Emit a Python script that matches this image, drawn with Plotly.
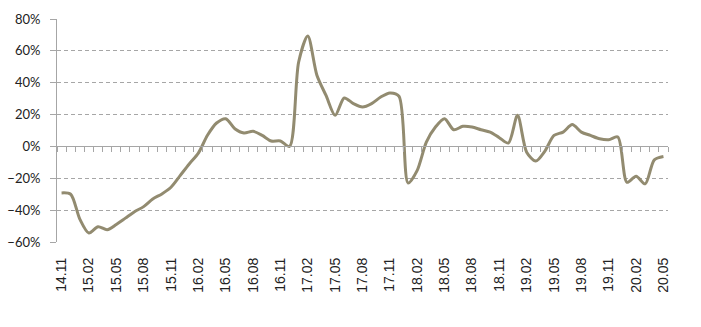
import plotly.graph_objects as go

# Monthly categories from 2014.11 to 2020.05
months = []
y, m = 14, 11
while (y, m) <= (20, 5):
    months.append(f"{y:02d}.{m:02d}")
    m += 1
    if m > 12:
        m = 1
        y += 1

values = [-29.2, -30, -45.6, -54.4, -50.4, -52.3, -49, -45, -41, -37.8,
          -33, -29.8, -25.6, -18.3, -11, -4.2, 7, 14.7, 17.4, 11.1,
          8.4, 9.5, 6.9, 3.4, 3.4, 0, 53, 69.3, 44.7, 32,
          19.5, 30.4, 26.9, 24.8, 26.9, 31, 33.6, 31.5, -23, -15,
          2.7, 12.2, 17.4, 10.5, 12.6, 12.2, 10.5, 9, 5.5, 2.1,
          19.5, -3.6, -9.2, -2.9, 6.9, 9, 13.7, 9, 6.9, 4.8,
          4.2, 5.9, -22.5, -18.7, -23.5, -8.4, -6.3]

tick_labels = ["14.11", "15.02", "15.05", "15.08", "15.11", "16.02", "16.05",
               "16.08", "16.11", "17.02", "17.05", "17.08", "17.11", "18.02",
               "18.05", "18.08", "18.11", "19.02", "19.05", "19.08", "19.11",
               "20.02", "20.05"]

line_color = "#928B70"
grid_color = "#A6A6A6"

fig = go.Figure()
fig.add_trace(go.Scatter(x=months, y=values, mode="lines",
                         line=dict(color=line_color, width=3, shape="spline", smoothing=0.8),
                         showlegend=False, hoverinfo="skip"))
# invisible trace to carry the zero-line tick axis
fig.add_trace(go.Scatter(x=months, y=values, mode="lines", xaxis="x2",
                         line=dict(width=0), opacity=0, showlegend=False, hoverinfo="skip"))

fig.update_layout(
    width=701, height=327,
    margin=dict(l=57, r=33, t=19, b=85, autoexpand=False),
    plot_bgcolor="white", paper_bgcolor="white",
    xaxis=dict(type="category", categoryorder="array", categoryarray=months,
               range=[-0.5, len(months) - 0.5], automargin=False,
               tickmode="array", tickvals=tick_labels, ticktext=tick_labels,
               tickangle=-90, ticks="", showline=False, showgrid=False, zeroline=False,
               tickfont=dict(family="Liberation Sans", size=14, color="#222"),
               ticklabelstandoff=12),
    xaxis2=dict(type="category", categoryorder="array", categoryarray=months,
                range=[-0.5, len(months) - 0.5], automargin=False,
                overlaying="x", anchor="free", position=60 / 140, side="bottom",
                tickson="boundaries", ticks="outside", ticklen=5, tickcolor=grid_color,
                dtick=1, showticklabels=False, showline=True, linecolor=grid_color,
                linewidth=1, showgrid=False, zeroline=False),
    yaxis=dict(range=[-60, 80], dtick=20, ticksuffix="%", automargin=False,
               showgrid=True, gridcolor=grid_color, griddash="4px,3px", gridwidth=1,
               zeroline=False, showline=True, linecolor=grid_color, linewidth=1,
               ticks="outside", ticklen=6, tickcolor=grid_color,
               tickfont=dict(family="Lato", size=13, color="#222"),
               ticklabelstandoff=7),
)

fig.write_html("out.html", config={"displayModeBar": False},
               post_script="document.body.style.margin='0';")
